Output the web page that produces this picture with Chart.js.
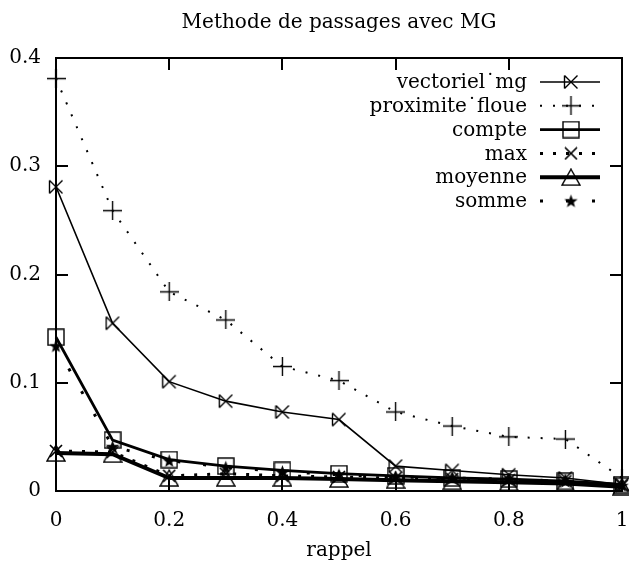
<!DOCTYPE html>
<html>
<head>
<meta charset="utf-8">
<script src="https://cdn.jsdelivr.net/npm/chart.js@4/dist/chart.umd.min.js"></script>
<style>
html,body{margin:0;padding:0;background:#fff;}
#wrap{width:629px;height:564px;}
</style>
</head>
<body>
<div id="wrap"><canvas id="c" width="629" height="564"></canvas></div>
<script>
// ---- data ----
const rappel = [0, 0.1, 0.2, 0.3, 0.4, 0.5, 0.6, 0.7, 0.8, 0.9, 1];
const vectorielMg = [0.281, 0.155, 0.101, 0.083, 0.073, 0.066, 0.023, 0.019, 0.015, 0.012, 0.006];
const proximiteFloue = [0.381, 0.259, 0.184, 0.158, 0.115, 0.102, 0.073, 0.060, 0.050, 0.048, 0.012];
const compte = [0.142, 0.047, 0.029, 0.023, 0.019, 0.016, 0.014, 0.012, 0.011, 0.009, 0.006];
const maxS = [0.037, 0.036, 0.014, 0.016, 0.014, 0.013, 0.012, 0.011, 0.010, 0.009, 0.005];
const moyenne = [0.035, 0.034, 0.012, 0.012, 0.012, 0.011, 0.010, 0.009, 0.008, 0.007, 0.004];
const somme = [0.134, 0.041, 0.028, 0.022, 0.018, 0.015, 0.013, 0.012, 0.011, 0.009, 0.005];
const seriesNames = ['vectoriel˙mg', 'proximite˙floue', 'compte', 'max', 'moyenne', 'somme'];
const xTicks = [0, 0.2, 0.4, 0.6, 0.8, 1];
const yTicks = [0, 0.1, 0.2, 0.3, 0.4];
const titleText = 'Methode de passages avec MG';
const xTitle = 'rappel';

const FONT = '20px "DejaVu Serif", serif';

// ---- marker canvases ----
function mk(w, h, draw) {
  const c = document.createElement('canvas');
  c.width = w; c.height = h;
  const g = c.getContext('2d');
  g.strokeStyle = '#000'; g.fillStyle = '#000'; g.lineWidth = 1.4;
  draw(g, w, h);
  return c;
}
const mBowtie = mk(16, 16, (g, w, h) => {
  g.beginPath();
  g.moveTo(1.5, 1.5); g.lineTo(w - 1.5, h - 1.5);
  g.moveTo(1.5, h - 1.5); g.lineTo(w - 1.5, 1.5);
  g.moveTo(1.5, 1.5); g.lineTo(1.5, h - 1.5);
  g.stroke();
});
const mPlus = mk(19, 19, (g, w, h) => {
  g.beginPath();
  g.moveTo(0, 9.5); g.lineTo(w, 9.5);
  g.moveTo(9.5, 0); g.lineTo(9.5, h);
  g.stroke();
});
const mSquare = mk(18, 18, (g, w, h) => {
  g.strokeRect(1, 1, w - 2, h - 2);
});
const mX = mk(14, 14, (g, w, h) => {
  g.lineWidth = 1.7;
  g.beginPath();
  g.moveTo(1, 1); g.lineTo(w - 1, h - 1);
  g.moveTo(1, h - 1); g.lineTo(w - 1, 1);
  g.stroke();
});
const mTri = mk(20, 18, (g, w, h) => {
  g.beginPath();
  g.moveTo(w / 2, 1); g.lineTo(w - 1, h - 1); g.lineTo(1, h - 1); g.closePath();
  g.stroke();
});
const mStar = mk(15, 15, (g, w, h) => {
  g.beginPath();
  const cx = w / 2, cy = h / 2 + 0.5, R = 7, r = 2.9;
  for (let i = 0; i < 10; i++) {
    const a = -Math.PI / 2 + i * Math.PI / 5;
    const rr = i % 2 ? r : R;
    const px = cx + rr * Math.cos(a), py = cy + rr * Math.sin(a);
    if (i) g.lineTo(px, py); else g.moveTo(px, py);
  }
  g.closePath(); g.fill();
});

function pts(arr) { return rappel.map((x, i) => ({ x: x, y: arr[i] })); }

const styles = [
  { data: vectorielMg, w: 1.6, dash: [], marker: mBowtie },
  { data: proximiteFloue, w: 2, dash: [2, 11], marker: mPlus },
  { data: compte, w: 2.8, dash: [], marker: mSquare },
  { data: maxS, w: 3, dash: [3, 10], marker: mX },
  { data: moyenne, w: 4, dash: [], marker: mTri },
  { data: somme, w: 3, dash: [3, 23], marker: mStar }
];

const datasets = styles.map((s, i) => ({
  label: seriesNames[i],
  data: pts(s.data),
  borderColor: '#000',
  backgroundColor: '#000',
  borderWidth: s.w,
  borderDash: s.dash,
  borderCapStyle: 'butt',
  borderJoinStyle: 'miter',
  pointStyle: s.marker,
  pointRadius: 8,
  pointHoverRadius: 8,
  tension: 0,
  fill: false,
  clip: false
}));

const framePlugin = {
  id: 'frame',
  afterDraw(chart) {
    const ctx = chart.ctx, a = chart.chartArea;
    const xs = chart.scales.x, ys = chart.scales.y;
    ctx.save();
    ctx.strokeStyle = '#000';
    ctx.lineWidth = 2;
    ctx.strokeRect(a.left, a.top, a.right - a.left, a.bottom - a.top);
    ctx.beginPath();
    const TL = 12;
    yTicks.forEach(v => {
      const y = Math.round(ys.getPixelForValue(v));
      ctx.moveTo(a.left, y); ctx.lineTo(a.left + TL, y);
      ctx.moveTo(a.right, y); ctx.lineTo(a.right - TL, y);
    });
    xTicks.forEach(v => {
      const x = Math.round(xs.getPixelForValue(v));
      ctx.moveTo(x, a.bottom); ctx.lineTo(x, a.bottom - TL);
      ctx.moveTo(x, a.top); ctx.lineTo(x, a.top + TL);
    });
    ctx.stroke();

    // titles
    ctx.fillStyle = '#000';
    ctx.font = FONT;
    ctx.textAlign = 'center';
    ctx.textBaseline = 'alphabetic';
    ctx.fillText(titleText, (a.left + a.right) / 2, 28);
    ctx.fillText(xTitle, (a.left + a.right) / 2, 556);

    // legend
    const tx = 527, lx0 = 540, lx1 = 600, mx = 571;
    chart.data.datasets.forEach((ds, i) => {
      const y = 82 + i * 23.8;
      ctx.font = FONT;
      ctx.textAlign = 'right';
      ctx.textBaseline = 'middle';
      ctx.fillText(ds.label, tx, y + 1);
      ctx.lineWidth = ds.borderWidth;
      ctx.setLineDash(ds.borderDash);
      ctx.lineCap = 'butt';
      ctx.beginPath();
      ctx.moveTo(lx0, y); ctx.lineTo(lx1, y);
      ctx.stroke();
      ctx.setLineDash([]);
      const m = ds.pointStyle;
      ctx.drawImage(m, mx - m.width / 2, y - m.height / 2);
    });
    ctx.restore();
  }
};

new Chart(document.getElementById('c'), {
  type: 'line',
  data: { datasets: datasets },
  options: {
    responsive: false,
    animation: false,
    events: [],
    layout: { autoPadding: false, padding: { top: 58, right: 7, left: 0, bottom: 0 } },
    plugins: { legend: { display: false }, title: { display: false }, tooltip: { enabled: false } },
    scales: {
      x: {
        type: 'linear', min: 0, max: 1,
        grid: { display: false, drawTicks: false },
        border: { display: false },
        afterFit(s) { s.height = 73; s.paddingLeft = 0; s.paddingRight = 0; },
        afterBuildTicks(s) { s.ticks = xTicks.map(v => ({ value: v })); },
        ticks: {
          color: '#000', font: { family: '"DejaVu Serif", serif', size: 20 }, padding: 18,
          maxRotation: 0, autoSkip: false,
          callback: v => String(v)
        }
      },
      y: {
        type: 'linear', min: 0, max: 0.4,
        grid: { display: false, drawTicks: false },
        border: { display: false },
        afterFit(s) { s.width = 56; s.paddingTop = 0; s.paddingBottom = 0; },
        afterBuildTicks(s) { s.ticks = yTicks.map(v => ({ value: v })); },
        ticks: {
          color: '#000', font: { family: '"DejaVu Serif", serif', size: 20 }, padding: 15,
          autoSkip: false,
          callback: v => String(v)
        }
      }
    }
  },
  plugins: [framePlugin]
});
</script>
</body>
</html>
